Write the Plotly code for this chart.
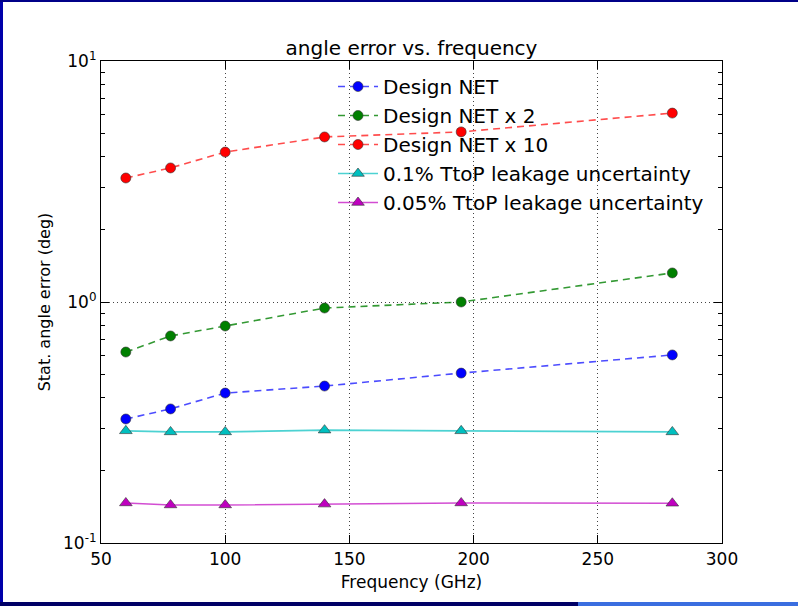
import plotly.graph_objects as go

freq = [60, 78, 100, 140, 195, 280]
design_net = [0.327, 0.360, 0.419, 0.448, 0.507, 0.603]
design_net_x2 = [0.620, 0.723, 0.795, 0.944, 1.00, 1.32]
design_net_x10 = [3.27, 3.60, 4.19, 4.84, 5.08, 6.08]
leak_01 = [0.292, 0.289, 0.289, 0.294, 0.292, 0.289]
leak_005 = [0.1466, 0.1438, 0.1438, 0.145, 0.1466, 0.1462]

series = [
    ("Design NET", design_net, "#0000ff", "rgba(0,0,255,0.7)", "dash", "circle"),
    ("Design NET x 2", design_net_x2, "#008000", "rgba(0,128,0,0.8)", "dash", "circle"),
    ("Design NET x 10", design_net_x10, "#ff0000", "rgba(255,0,0,0.7)", "dash", "circle"),
    ("0.1% TtoP leakage uncertainty", leak_01, "#00bfbf", "rgba(0,191,191,0.7)", "solid", "triangle-up"),
    ("0.05% TtoP leakage uncertainty", leak_005, "#bf00bf", "rgba(191,0,191,0.7)", "solid", "triangle-up"),
]

fig = go.Figure()
for name, vals, mc, lc, dash, sym in series:
    fig.add_trace(go.Scatter(
        x=freq, y=vals, name=name, mode="lines+markers",
        line=dict(color=lc, width=1.6, dash=dash if dash == "solid" else "7px,5px"),
        marker=dict(color=mc, size=10 if sym == "circle" else 11, symbol=sym,
                    line=dict(color="#333333", width=0.6)),
    ))

L, R, T, B = 101, 722, 61, 543
W, H = 798, 606
pw, ph = R - L, B - T

def px(xp):
    return (xp - L) / pw

def py(yp):
    return (B - yp) / ph

minor_vals = [m * 10 ** e for e in (-1, 0) for m in range(2, 10)]

grid = dict(showgrid=True, gridcolor="#444444", griddash="1px,3px", gridwidth=1)

fig.update_layout(
    width=W, height=H,
    margin=dict(l=L, r=W - R, t=T, b=H - B, pad=0),
    paper_bgcolor="white", plot_bgcolor="white",
    font=dict(family="DejaVu Sans", color="black", size=16),
    title=dict(text="angle error vs. frequency", x=(L + R) / 2 / W, xanchor="center",
               y=1 - 48 / H, yanchor="middle", font=dict(size=20)),
    showlegend=True,
    legend=dict(x=px(333), y=py(67), xanchor="left", yanchor="top",
                bgcolor="rgba(0,0,0,0)", borderwidth=0, font=dict(size=20),
                tracegroupgap=0, itemwidth=40),
    xaxis=dict(range=[50, 300], tickvals=[50, 100, 150, 200, 250, 300],
               ticks="inside", ticklen=8, tickcolor="black", mirror="allticks",
               showline=True, linecolor="black", linewidth=1.2,
               zeroline=False, tickfont=dict(size=17),
               title=dict(text="Frequency (GHz)", font=dict(size=17), standoff=8), **grid),
    yaxis=dict(type="log", range=[-1, 1], tickvals=[0.1, 1, 10],
               ticktext=["10<sup>-1</sup>", "10<sup>0</sup>", "10<sup>1</sup>"],
               ticks="inside", ticklen=8, tickcolor="black", mirror="allticks",
               showline=True, linecolor="black", linewidth=1.2,
               zeroline=False, tickfont=dict(size=17),
               minor=dict(tickvals=minor_vals, ticks="inside", ticklen=4,
                          tickcolor="black", showgrid=False),
               title=dict(text="Stat. angle error (deg)", font=dict(size=16), standoff=8), **grid),
)

# slide border decorations
shapes = [
    dict(type="rect", xref="paper", yref="paper", x0=px(0), x1=px(3), y0=py(606), y1=py(0),
         fillcolor="#0000aa", line=dict(width=0), layer="above"),
    dict(type="rect", xref="paper", yref="paper", x0=px(0), x1=px(798), y0=py(2), y1=py(0),
         fillcolor="#000088", line=dict(width=0), layer="above"),
    dict(type="rect", xref="paper", yref="paper", x0=px(0), x1=px(578), y0=py(606), y1=py(602),
         fillcolor="#000066", line=dict(width=0), layer="above"),
    dict(type="rect", xref="paper", yref="paper", x0=px(578), x1=px(798), y0=py(606), y1=py(602),
         fillcolor="#3a6ee0", line=dict(width=0), layer="above"),
]
fig.update_layout(shapes=shapes)

fig.write_html("out.html")
